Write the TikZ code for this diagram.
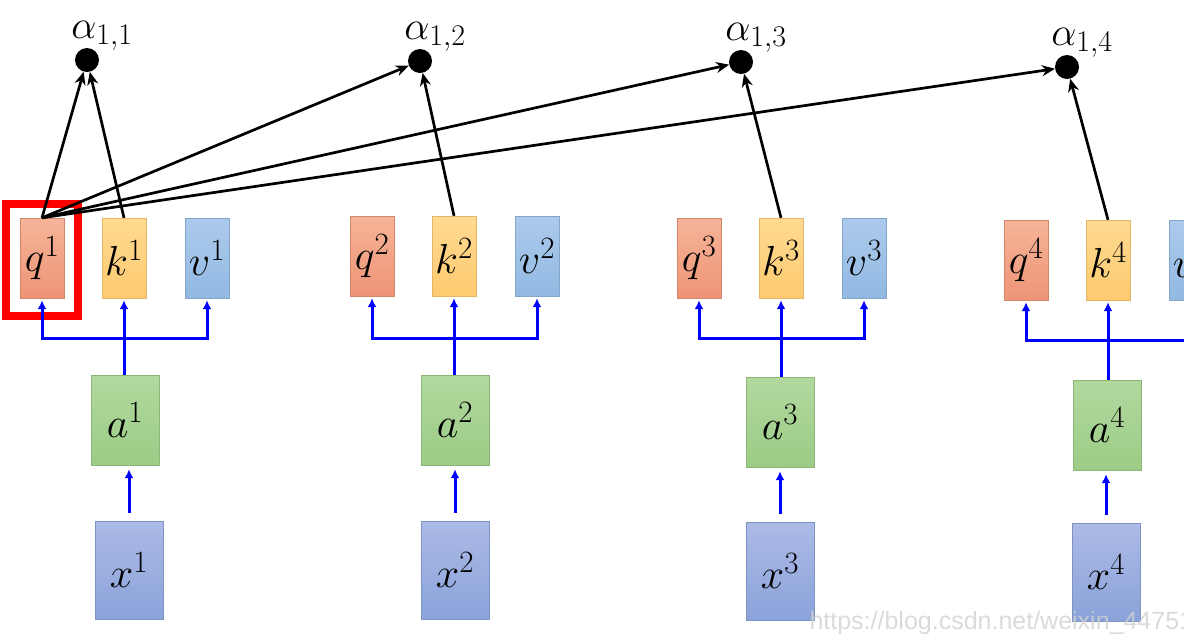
\RequirePackage{fix-cm}
\documentclass[tikz,border=0pt]{standalone}
\usepackage{amsmath}
\usepackage{xcolor}
\usepackage{fontspec}
\newfontfamily\wmfont{Liberation Sans}
\usepackage{tikz}
\usetikzlibrary{arrows.meta, positioning, calc}
\DeclareMathSizes{42}{42}{31}{24}
\DeclareMathSizes{40}{40}{30}{23}

\definecolor{qtop}{RGB}{246,180,152}
\definecolor{qbot}{RGB}{238,148,118}
\definecolor{ktop}{RGB}{255,218,145}
\definecolor{kbot}{RGB}{253,202,112}
\definecolor{vtop}{RGB}{172,202,236}
\definecolor{vbot}{RGB}{146,185,226}
\definecolor{atop}{RGB}{178,216,158}
\definecolor{abot}{RGB}{155,204,134}
\definecolor{xtop}{RGB}{172,186,230}
\definecolor{xbot}{RGB}{138,163,218}

\begin{document}
\begin{tikzpicture}[x=1pt, y=-1pt,
  vec/.style={minimum width=44pt, minimum height=80pt, inner sep=0pt, font=\fontsize{42}{44}\selectfont},
  qbox/.style={vec, draw=qbot!90!black, top color=qtop, bottom color=qbot},
  kbox/.style={vec, draw=kbot!90!black, top color=ktop, bottom color=kbot},
  vbox/.style={vec, draw=vbot!90!black, top color=vtop, bottom color=vbot},
  abox/.style={vec, minimum width=68pt, minimum height=90pt, draw=abot!90!black, top color=atop, bottom color=abot},
  xbox/.style={vec, minimum width=68pt, minimum height=98pt, draw=xbot!90!black, top color=xtop, bottom color=xbot},
  dot/.style={circle, fill=black, minimum size=24pt, inner sep=0pt},
  blue line/.style={draw=blue, line width=3pt, -{Latex[length=9pt, width=9pt]}, shorten >=2pt},
  score/.style={draw=black, line width=2.7pt, -{Stealth[length=13pt, width=11pt]}}]
  \useasboundingbox (0,0) rectangle (1184,638);
  \begin{scope}
  \clip (0,0) rectangle (1184,638);
  % Scores alpha_{1,i}
  \node[dot] (al1) at (87,60) {};
  \node[dot] (al2) at (420,61) {};
  \node[dot] (al3) at (741,62) {};
  \node[dot] (al4) at (1067,67) {};
  \node[above=-6pt, xshift=15pt, font=\fontsize{40}{42}\selectfont] (lab1) at (al1.north) {$\alpha_{1,1}$};
  \node[above=-6pt, xshift=15pt, font=\fontsize{40}{42}\selectfont] (lab2) at (al2.north) {$\alpha_{1,2}$};
  \node[above=-6pt, xshift=15pt, font=\fontsize{40}{42}\selectfont] (lab3) at (al3.north) {$\alpha_{1,3}$};
  \node[above=-6pt, xshift=15pt, font=\fontsize{40}{42}\selectfont] (lab4) at (al4.north) {$\alpha_{1,4}$};
  % Inputs x^i and embeddings a^i
  \node[xbox] (x1) at (129,570) {$x^1$};
  \node[xbox] (x2) at (455,570) {$x^2$};
  \node[xbox] (x3) at (780,571) {$x^3$};
  \node[xbox] (x4) at (1106,572) {$x^4$};
  \node[abox] (a1) at (125,420) {$a^1$};
  \node[abox] (a2) at (455,420) {$a^2$};
  \node[abox] (a3) at (780,422) {$a^3$};
  \node[abox] (a4) at (1107,425) {$a^4$};
  % Query, key, value
  \node[qbox] (q1) at (42,258) {$q^1$};
  \node[kbox] (k1) at (124,258) {$k^1$};
  \node[vbox] (v1) at (207,258) {$v^1$};
  \node[qbox] (q2) at (372,256) {$q^2$};
  \node[kbox] (k2) at (454,256) {$k^2$};
  \node[vbox] (v2) at (537,256) {$v^2$};
  \node[qbox] (q3) at (699,258) {$q^3$};
  \node[kbox] (k3) at (781,258) {$k^3$};
  \node[vbox] (v3) at (864,258) {$v^3$};
  \node[qbox] (q4) at (1026,260) {$q^4$};
  \node[kbox] (k4) at (1108,260) {$k^4$};
  \node[vbox] (v4) at (1191,260) {$v^4$};
  % Highlight of q^1
  \node[draw=red, line width=8pt, minimum width=72pt, minimum height=112pt] (hl) at (42,260) {};
  % x -> a
  \draw[blue line, shorten <=8pt, shorten >=4pt] (x1.north) -- (x1.north |- a1.south);
  \draw[blue line, shorten <=8pt, shorten >=4pt] (x2.north) -- (a2.south);
  \draw[blue line, shorten <=8pt, shorten >=4pt] (x3.north) -- (a3.south);
  \draw[blue line, shorten <=8pt, shorten >=4pt] (x4.north) -- (x4.north |- a4.south);
  % a -> q, k, v
  \coordinate (j1) at (124,338);
  \coordinate (j2) at (454,338);
  \coordinate (j3) at (781,338);
  \coordinate (j4) at (1108,340);
  \draw[blue line] (a1.north -| k1) -- (k1.south);
  \draw[blue line] (j1) -| (q1.south);
  \draw[blue line] (j1) -| (v1.south);
  \draw[blue line] (a2.north -| k2) -- (k2.south);
  \draw[blue line] (j2) -| (q2.south);
  \draw[blue line] (j2) -| (v2.south);
  \draw[blue line] (a3.north -| k3) -- (k3.south);
  \draw[blue line] (j3) -| (q3.south);
  \draw[blue line] (j3) -| (v3.south);
  \draw[blue line] (a4.north -| k4) -- (k4.south);
  \draw[blue line] (j4) -| (q4.south);
  \draw[blue line] (j4) -| (v4.south);
  % q^1 against every k^i
  \draw[score] (q1.north) -- (al1);
  \draw[score] (q1.north) -- (al2);
  \draw[score] (q1.north) -- (al3);
  \draw[score] (q1.north) -- (al4);
  \draw[score] (k1.north) -- (al1);
  \draw[score] (k2.north) -- (al2);
  \draw[score] (k3.north) -- (al3);
  \draw[score] (k4.north) -- (al4);
  % Watermark
  \node[anchor=base west, text=black!18, text opacity=0.8, font=\wmfont\fontsize{25}{27}\selectfont] (wm) at (806,629) {https://blog.csdn.net/weixin\_447512};
  \end{scope}
\end{tikzpicture}
\end{document}
